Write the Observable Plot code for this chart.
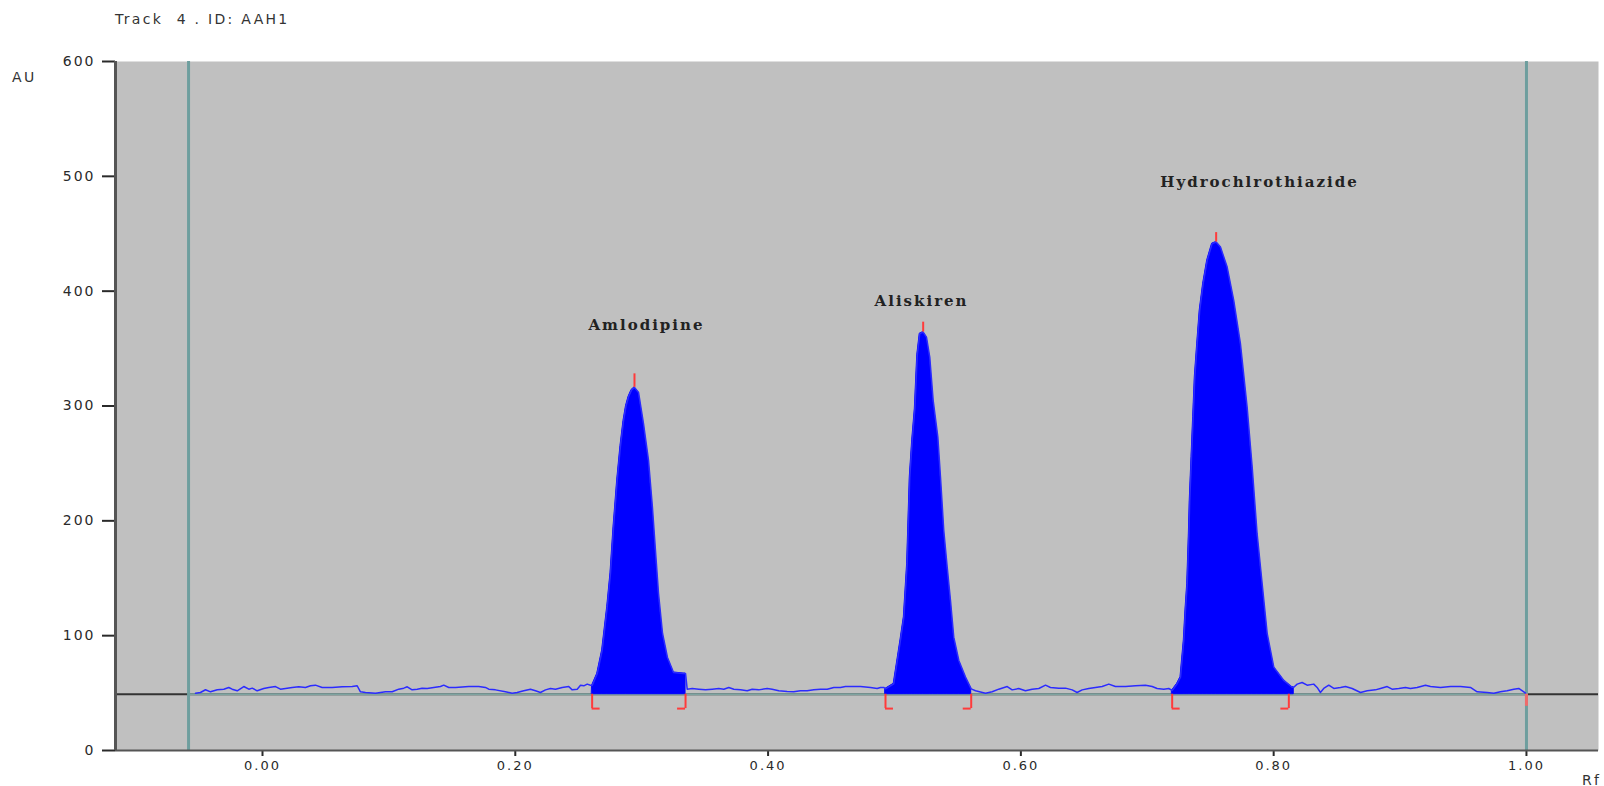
<!DOCTYPE html>
<html><head><meta charset="utf-8">
<script src="https://cdn.jsdelivr.net/npm/d3@7"></script>
<script src="https://cdn.jsdelivr.net/npm/@observablehq/plot@0.6"></script>
<style>
body{margin:0;background:#fff;width:1604px;height:786px;overflow:hidden;position:relative;font-family:"DejaVu Sans",sans-serif;}
#chart{position:absolute;left:0;top:0}
.lbl{position:absolute;color:#333;font-size:14px;line-height:16px;letter-spacing:2.3px;white-space:pre}
#chart g[aria-label="y-axis tick label"] text{letter-spacing:2px}
#chart g[aria-label="x-axis tick label"] text{letter-spacing:2px}
#chart g[aria-label="text"] text{letter-spacing:2px}
</style></head><body>
<div id="chart"></div>
<div class="lbl" style="left:115px;top:11px">Track  4 . ID: AAH1</div>
<div class="lbl" style="left:12px;top:69px">AU</div>
<div class="lbl" style="left:1582px;top:772px">Rf</div>
<script>
// ---- data ----
const xDomain = [-0.1163, 1.0570];
const yDomain = [0, 600];
const yTicks = [0, 100, 200, 300, 400, 500, 600];
const xTicks = [0, 0.2, 0.4, 0.6, 0.8, 1.0];
const baselineAU = 49;
const trackLimits = [-0.0585, 1.0];

const noiseRf = [-0.0530,-0.0491,-0.0451,-0.0411,-0.0358,-0.0306,-0.0267,-0.0240,-0.0200,-0.0148,-0.0108,-0.0081,-0.0042,0.0010,0.0050,0.0103,0.0142,0.0182,0.0235,0.0287,0.0340,0.0380,0.0419,0.0472,0.0551,0.0631,0.0710,0.0749,0.0775,0.0815,0.0894,0.0973,
0.1026,0.1078,0.1118,0.1145,0.1184,0.1224,0.1263,0.1303,0.1355,0.1408,0.1434,0.1474,0.1527,0.1632,0.1711,0.1764,0.1790,0.1843,0.1922,0.1975,0.2015,0.2067,0.2120,0.2160,0.2199,0.2239,0.2278,0.2318,0.2371,0.2423,0.2450,0.2490,0.2516,0.2542,0.2569,0.2595,
0.3360,0.3400,0.3452,0.3505,0.3558,0.3610,0.3650,0.3689,0.3729,0.3782,0.3835,0.3874,0.3926,0.3993,0.4032,0.4085,0.4151,0.4203,0.4256,0.4309,0.4362,0.4415,0.4468,0.4520,0.4573,0.4612,0.4652,0.4731,0.4810,0.4863,0.4889,0.4915,
0.5641,0.5720,0.5773,0.5825,0.5892,0.5931,0.5983,0.6036,0.6089,0.6142,0.6195,0.6234,0.6300,0.6353,0.6406,0.6445,0.6485,0.6537,0.6590,0.6643,0.6696,0.6748,0.6828,0.6907,0.6986,0.7039,0.7078,0.7131,0.7170,
0.8186,0.8225,0.8265,0.8317,0.8344,0.8370,0.8396,0.8436,0.8476,0.8529,0.8568,0.8621,0.8687,0.8740,0.8805,0.8845,0.8898,0.8937,0.8990,0.9043,0.9082,0.9135,0.9201,0.9241,0.9320,0.9399,0.9478,0.9557,0.9610,0.9689,0.9742,0.9794,0.9847,0.9900,0.9939,0.9979,0.9992];
const noiseAU = [49.9,50.5,52.9,51.1,52.9,53.4,54.9,53.4,52.0,55.7,53.4,54.3,52.0,54.0,54.9,55.7,53.4,54.0,54.9,55.5,54.9,56.4,56.9,54.9,54.9,55.5,55.7,56.4,51.1,50.5,49.9,51.1,
51.1,53.4,54.3,55.5,52.8,53.4,54.3,54.0,54.9,55.7,56.9,54.9,54.9,55.7,55.7,54.9,53.4,52.8,51.1,49.9,50.5,52.0,53.4,52.0,50.5,52.8,54.0,53.4,54.9,55.7,52.8,53.4,56.9,56.3,57.8,56.9,
53.4,54.0,53.4,52.8,53.4,54.0,53.4,54.9,53.4,52.8,52.0,53.4,52.8,54.0,53.4,52.0,51.4,51.1,52.0,52.0,52.8,53.4,53.4,54.9,54.9,55.7,55.7,55.7,54.9,54.0,54.9,54.9,
52.0,49.9,51.1,53.4,55.7,52.8,54.0,52.0,53.4,54.0,56.9,54.9,54.3,54.3,52.8,50.5,52.8,54.0,54.9,55.7,57.8,55.7,55.7,56.3,56.9,55.7,54.0,53.4,54.0,
57.8,59.2,56.9,57.8,54.9,50.5,54.0,56.9,54.0,54.9,55.7,54.0,50.5,52.0,52.8,54.0,55.7,53.4,54.0,54.9,54.0,54.9,56.9,55.7,54.9,55.7,55.7,54.9,51.1,50.5,49.9,51.1,52.0,53.4,54.0,51.1,49.9];

const amlodipineRf = [0.2608,0.2648,0.2687,0.2727,0.2753,0.2777,0.2806,0.2832,0.2856,0.2876,0.2896,0.2920,0.2943,0.2975,0.3014,0.3054,0.3085,0.3109,0.3133,0.3165,0.3204,0.3252,0.3331,0.3347];
const amlodipineAU = [56.6,66.8,87.1,124.8,154.2,194.3,235.2,265.0,287.0,300.0,308.0,314.0,316.2,311.8,284.8,252.6,211.7,174.2,136.8,101.9,81.0,68.0,67.0,67.0];
const aliskirenRf = [0.4929,0.4994,0.5047,0.5074,0.5100,0.5121,0.5140,0.5161,0.5180,0.5200,0.5227,0.5253,0.5279,0.5306,0.5343,0.5364,0.5390,0.5417,0.5443,0.5469,0.5509,0.5562,0.5607];
const aliskirenAU = [53.7,58.1,95.8,116.1,162.6,238.1,270.0,297.6,344.1,363.0,364.4,360.0,342.6,304.9,272.9,238.1,191.6,159.7,130.7,98.7,78.4,63.9,53.7];
const hydroRf = [0.7197,0.7236,0.7263,0.7289,0.7302,0.7316,0.7329,0.7336,0.7350,0.7363,0.7376,0.7395,0.7415,0.7442,0.7474,0.7513,0.7545,0.7579,0.7632,0.7684,0.7737,0.7790,0.7830,0.7869,0.7909,0.7949,0.8001,0.8080,0.8146,0.8159];
const hydroAU = [52.3,58.1,63.9,95.8,122.0,145.2,188.8,217.8,255.5,290.3,325.2,354.3,383.3,406.5,426.8,441.4,442.8,438.4,421.0,392.0,354.3,299.0,246.8,188.8,145.2,101.7,72.6,61.0,55.1,55.1];

const peakNames = ["Amlodipine", "Aliskiren", "Hydrochlrothiazide"];
const peakLabelRf = [0.3038, 0.5214, 0.7888];
const peakLabelAU = [370, 391, 495];
const peakStartRf = [0.2608, 0.4929, 0.7197];
const peakEndRf = [0.3347, 0.5607, 0.8120];
const peakTopRf = [0.2943, 0.5227, 0.7545];
const peakTopAU = [316.2, 364.4, 442.8];
const peakTickAU = [328, 373, 451];
const bracketLowAU = 36.5;
const bracketFoot = 0.0063;

// ---- build tables ----
const zip = (xs, ys) => xs.map((x, i) => ({rf: x, au: ys[i]}));
const peakSeries = [zip(amlodipineRf, amlodipineAU), zip(aliskirenRf, aliskirenAU), zip(hydroRf, hydroAU)];
const trace = zip(noiseRf, noiseAU).concat(...peakSeries).sort((a, b) => a.rf - b.rf);
const peaks = peakNames.map((n, i) => ({
  name: n, lx: peakLabelRf[i], ly: peakLabelAU[i],
  start: peakStartRf[i], end: peakEndRf[i],
  top: peakTopRf[i], topAU: peakTopAU[i], tick: peakTickAU[i]
}));

const red = "#ff3b3b";
const chart = Plot.plot({
  width: 1604, height: 786,
  marginLeft: 115, marginRight: 6, marginTop: 61, marginBottom: 36,
  style: {background: "transparent", fontFamily: "DejaVu Sans, sans-serif"},
  x: {domain: xDomain},
  y: {domain: yDomain},
  marks: [
    Plot.frame({fill: "#c0c0c0", stroke: null}),
    Plot.ruleY([baselineAU], {stroke: "#333", strokeWidth: 2}),
    Plot.ruleY([baselineAU], {x1: trackLimits[0], x2: trackLimits[1], stroke: "#7fa3a0", strokeWidth: 2}),
    Plot.ruleX(trackLimits, {stroke: "#6e9e9e", strokeWidth: 3}),
    ...peakSeries.map(s => Plot.areaY(s, {x: "rf", y1: baselineAU, y2: "au", fill: "#0000ff", stroke: "#0000ff", strokeWidth: 1})),
    Plot.line(trace, {x: "rf", y: "au", stroke: "#2b2bff", strokeWidth: 1.5}),
    Plot.ruleX(peaks, {x: "start", y1: bracketLowAU, y2: baselineAU, stroke: red, strokeWidth: 2}),
    Plot.ruleY(peaks, {y: bracketLowAU, x1: "start", x2: d => d.start + bracketFoot, stroke: red, strokeWidth: 2}),
    Plot.ruleX(peaks, {x: "end", y1: bracketLowAU, y2: baselineAU, stroke: red, strokeWidth: 2}),
    Plot.ruleY(peaks, {y: bracketLowAU, x1: d => d.end - bracketFoot, x2: "end", stroke: red, strokeWidth: 2}),
    Plot.ruleX(peaks, {x: "top", y1: "topAU", y2: "tick", stroke: red, strokeWidth: 2}),
    Plot.ruleX([trackLimits[1]], {y1: bracketLowAU + 2, y2: baselineAU, stroke: "#f06a6a", strokeWidth: 3}),
    Plot.text(peaks, {x: "lx", y: "ly", text: "name", fontFamily: "DejaVu Serif, serif", fontWeight: "bold", fontSize: 15, fill: "#222", textAnchor: "middle", lineAnchor: "middle"}),
    Plot.axisY({ticks: yTicks, tickFormat: d => String(d), tickSize: 13, tickPadding: 7, fontSize: 14, color: "#2a2a2a", strokeWidth: 2, label: null}),
    Plot.axisX({ticks: xTicks, tickFormat: d3.format(".2f"), tickSize: 6, tickPadding: 4, fontSize: 13, color: "#2a2a2a", strokeWidth: 2, label: null}),
    Plot.ruleX([xDomain[0]], {stroke: "#555", strokeWidth: 3}),
    Plot.ruleY([yDomain[0]], {stroke: "#555", strokeWidth: 2})
  ]
});
document.getElementById("chart").appendChild(chart);
</script>
</body></html>
